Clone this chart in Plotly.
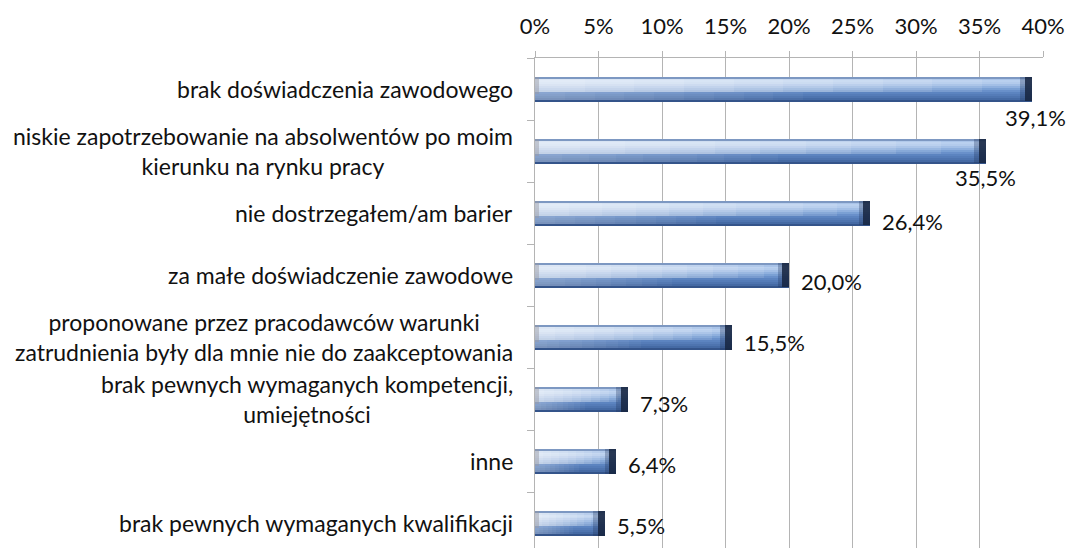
import plotly.graph_objects as go

# Survey answers (share of respondents, %)
categories = [
    "brak doświadczenia zawodowego",
    "niskie zapotrzebowanie na absolwentów po moim<br>kierunku na rynku pracy",
    "nie dostrzegałem/am barier",
    "za małe doświadczenie zawodowe",
    "proponowane przez pracodawców warunki<br>zatrudnienia były dla mnie nie do zaakceptowania",
    "brak pewnych wymaganych kompetencji,<br>umiejętności",
    "inne",
    "brak pewnych wymaganych kwalifikacji",
]
values = [39.1, 35.5, 26.4, 20.0, 15.5, 7.3, 6.4, 5.5]
tick_values = [0, 5, 10, 15, 20, 25, 30, 35, 40]

FONT = "Lato"
FS = 22
FS_CAT = 23
TEXT = "#111111"
GRID = "#b4b4b4"

# vertical shading of the cylinder-like bars, top to bottom
band_colors = [
    "#7d98c2", "#a9c3e8", "#b9d0ef", "#b3cbec", "#a3bfe6", "#8fb0de",
    "#7aa0d4", "#6990ca", "#5c84c0", "#557cb8", "#4e74af", "#456aa4",
    "#34548a",
]
BAR_W = 0.40
n_bands = len(band_colors)
band_w = BAR_W / n_bands

fig = go.Figure()

for i, col in enumerate(band_colors):
    fig.add_trace(go.Bar(
        y=categories, x=values, orientation="h", base=0,
        width=band_w * 1.08, offset=-BAR_W / 2 + i * band_w,
        marker=dict(color=col, line=dict(width=0)),
        hoverinfo="skip", showlegend=False,
    ))

# whiter left part of each bar (horizontal highlight in the upper half)
for k in range(1, 10):
    frac = k / 10
    fig.add_trace(go.Bar(
        y=categories, x=[v * frac for v in values], orientation="h", base=0,
        width=band_w * 7, offset=-BAR_W / 2 + band_w,
        marker=dict(color="rgba(255,255,255,0.10)", line=dict(width=0)),
        hoverinfo="skip", showlegend=False,
    ))
    fig.add_trace(go.Bar(
        y=categories, x=[v * frac * 0.6 for v in values], orientation="h", base=0,
        width=band_w * 4, offset=-BAR_W / 2 + band_w * 8,
        marker=dict(color="rgba(255,255,255,0.04)", line=dict(width=0)),
        hoverinfo="skip", showlegend=False,
    ))

# bevelled ends
fig.add_trace(go.Bar(
    y=categories, x=[0.9] * len(values), orientation="h",
    base=[v - 0.9 for v in values],
    width=BAR_W, offset=-BAR_W / 2,
    marker=dict(color="rgba(30,50,90,0.30)", line=dict(width=0)),
    hoverinfo="skip", showlegend=False,
))
fig.add_trace(go.Bar(
    y=categories, x=[0.55] * len(values), orientation="h",
    base=[v - 0.55 for v in values],
    width=BAR_W, offset=-BAR_W / 2,
    marker=dict(color="rgba(22,36,64,0.85)", line=dict(width=0)),
    hoverinfo="skip", showlegend=False,
))
fig.add_trace(go.Bar(
    y=categories, x=[0.3] * len(values), orientation="h", base=0,
    width=BAR_W * 0.7, offset=-BAR_W / 2,
    marker=dict(color="rgba(150,150,160,0.45)", line=dict(width=0)),
    hoverinfo="skip", showlegend=False,
))

# category labels, centred lines, right-aligned block
annotations = []
for cat in categories:
    annotations.append(dict(
        x=0, xref="paper", y=cat, yref="y", xanchor="right", yanchor="middle",
        xshift=-20, text=cat, showarrow=False, align="center",
        font=dict(family=FONT, size=FS_CAT, color=TEXT),
    ))

# value labels; the two longest sit under the bar end
label_shift = [(4, -28), (0, -26), (10, -8), (10, -6), (10, -5), (10, -4), (10, -3), (10, -2)]
for cat, v, (dx, dy) in zip(categories, values, label_shift):
    below = dy < -20
    annotations.append(dict(
        x=v, xref="x", y=cat, yref="y",
        xanchor="center" if below else "left", yanchor="middle",
        xshift=dx, yshift=dy,
        text=f"{v:.1f}".replace(".", ",") + "%", showarrow=False,
        font=dict(family=FONT, size=FS, color=TEXT),
    ))

fig.update_layout(
    width=1070, height=548,
    margin=dict(l=535, r=27, t=58, b=0),
    paper_bgcolor="white", plot_bgcolor="white",
    barmode="overlay", bargap=0,
    annotations=annotations,
    font=dict(family=FONT, size=FS, color=TEXT),
)
fig.update_xaxes(
    side="top", range=[0, 40], tickvals=tick_values,
    ticktext=[f"{t}%" for t in tick_values],
    showgrid=True, gridcolor=GRID, gridwidth=1,
    showline=True, linecolor=GRID, linewidth=1,
    ticks="outside", ticklen=6, tickcolor=GRID,
    ticklabelstandoff=8, zeroline=False,
    tickfont=dict(family=FONT, size=FS, color=TEXT),
)
fig.update_yaxes(
    type="category", categoryorder="array", categoryarray=categories,
    range=[7.4, -0.5], showticklabels=False,
    showline=True, linecolor=GRID, linewidth=1,
    ticks="outside", ticklen=7, tickcolor=GRID, tickson="boundaries",
    showgrid=False, zeroline=False,
)

fig.write_html("out.html")
